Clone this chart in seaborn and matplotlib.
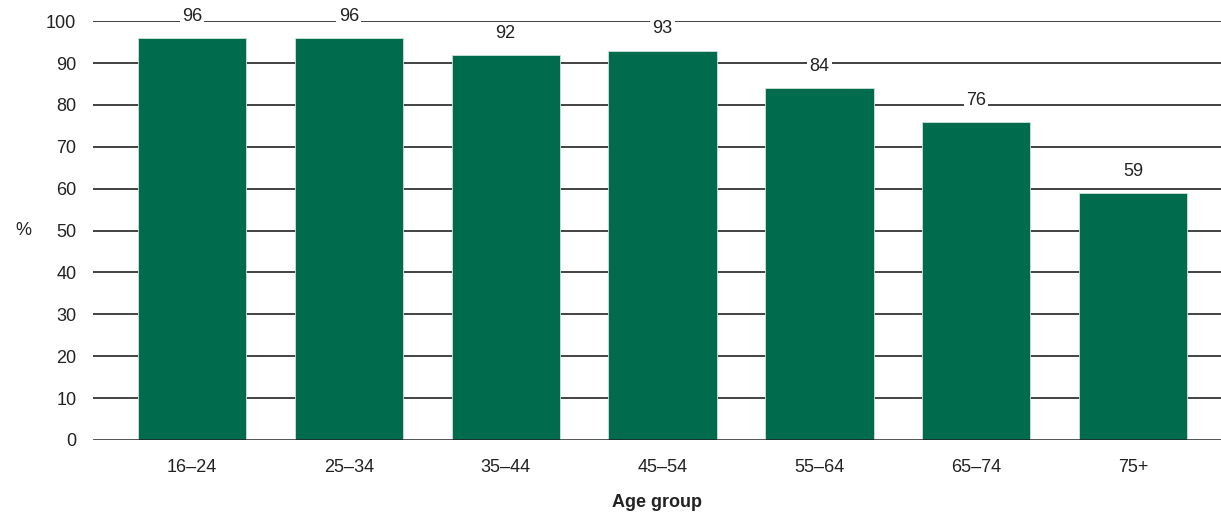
import matplotlib
matplotlib.use("Agg")
import matplotlib.pyplot as plt
import pandas as pd
import seaborn as sns

age_groups = ["16\u201324", "25\u201334", "35\u201344", "45\u201354", "55\u201364", "65\u201374", "75+"]
percent = [96, 96, 92, 93, 84, 76, 59]

sns.set_theme(style="white")
plt.rcParams["font.family"] = ["Liberation Sans", "DejaVu Sans"]

df = pd.DataFrame({"age": age_groups, "pct": percent})

fig = plt.figure(figsize=(12.21, 5.17), dpi=100)
ax = fig.add_axes([0.0762, 0.149, 0.9238, 0.81])

sns.barplot(data=df, x="age", y="pct", color="#006b4d", saturation=1,
            width=0.69, ax=ax, zorder=3, edgecolor="#cfe3da", linewidth=0.6)

# horizontal gridlines behind bars
for v in range(10, 101, 10):
    ax.axhline(v, color="#222222", lw=1.2, zorder=1)
ax.axhline(0, color="#222222", lw=1.8, zorder=4)

for i, v in enumerate(percent):
    ax.annotate(str(v), (i, v), xytext=(0, 15.5), textcoords="offset points",
                ha="center", va="center", fontsize=13, color="#222222",
                bbox=dict(boxstyle="square,pad=0.12", fc="white", ec="none"),
                zorder=5)

ax.set_ylim(0, 100)
ax.set_xlim(-0.63, 6.56)
ax.set_yticks(range(0, 101, 10))
ax.tick_params(axis="both", length=0, labelsize=13, colors="#222222")
ax.tick_params(axis="y", pad=12)
ax.tick_params(axis="x", pad=14)
for s in ax.spines.values():
    s.set_visible(False)

ax.set_xlabel("Age group", fontsize=13, fontweight="bold", color="#222222", labelpad=13)
ax.set_ylabel("%", fontsize=13, color="#222222", rotation=0, va="center")
ax.yaxis.set_label_coords(-0.062, 0.5)

fig.savefig("out.png", dpi=100)
